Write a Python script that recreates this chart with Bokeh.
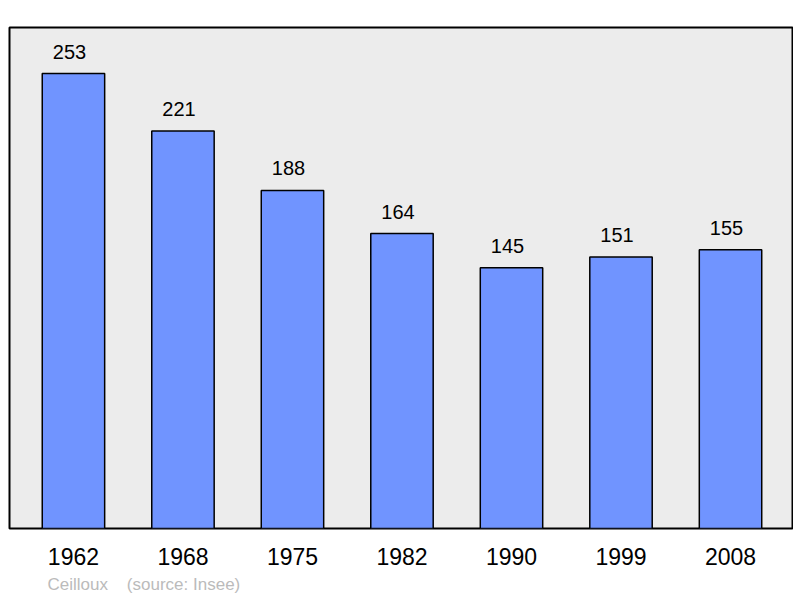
from bokeh.plotting import figure
from bokeh.models import ColumnDataSource, Range1d, Title, FixedTicker
from bokeh.core.properties import value
from bokeh.embed import file_html
from bokeh.resources import INLINE

years = ["1962", "1968", "1975", "1982", "1990", "1999", "2008"]
population = [253, 221, 188, 164, 145, 151, 155]
commune = "Ceilloux"
source_note = "(source: Insee)"

idx = list(range(len(years)))
src = ColumnDataSource(dict(x=idx, top=population, label=[str(v) for v in population]))

p = figure(width=793, height=598, output_backend="svg", toolbar_location=None,
           x_range=Range1d(-0.584, 6.566), y_range=Range1d(0, 278.6),
           y_axis_type=None, min_border_left=9, min_border_right=1,
           min_border_top=27, min_border_bottom=70)
p.background_fill_color = "#ececec"
p.border_fill_color = "white"
p.outline_line_color = "black"
p.outline_line_width = 2
p.xgrid.visible = False
p.ygrid.visible = False

p.vbar(x="x", top="top", bottom=0, width=0.57, source=src,
       fill_color="#7094ff", line_color="black", line_width=1.5)
p.text(x="x", y="top", text="label", source=src, text_align="center",
       text_baseline="alphabetic", y_offset=-22, x_offset=-4, text_font_size="20px",
       text_font=value("Liberation Sans"), text_color="black")

ax = p.xaxis[0]
ax.ticker = FixedTicker(ticks=idx)
ax.major_label_overrides = {i: y for i, y in zip(idx, years)}
ax.axis_line_color = None
ax.major_tick_line_color = None
ax.minor_tick_line_color = None
ax.major_tick_out = 0
ax.major_label_standoff = 19
ax.major_label_text_font = "Liberation Sans"
ax.major_label_text_font_size = "23px"
ax.major_label_text_color = "black"

p.add_layout(Title(text=commune + "\u00a0\u00a0\u00a0\u00a0" + source_note,
                   align="left", offset=38, standoff=10,
                   text_font="Liberation Sans", text_font_size="17px",
                   text_font_style="normal", text_color="#bbbbbb"), "below")

open("out.html", "w").write(file_html(p, INLINE))
